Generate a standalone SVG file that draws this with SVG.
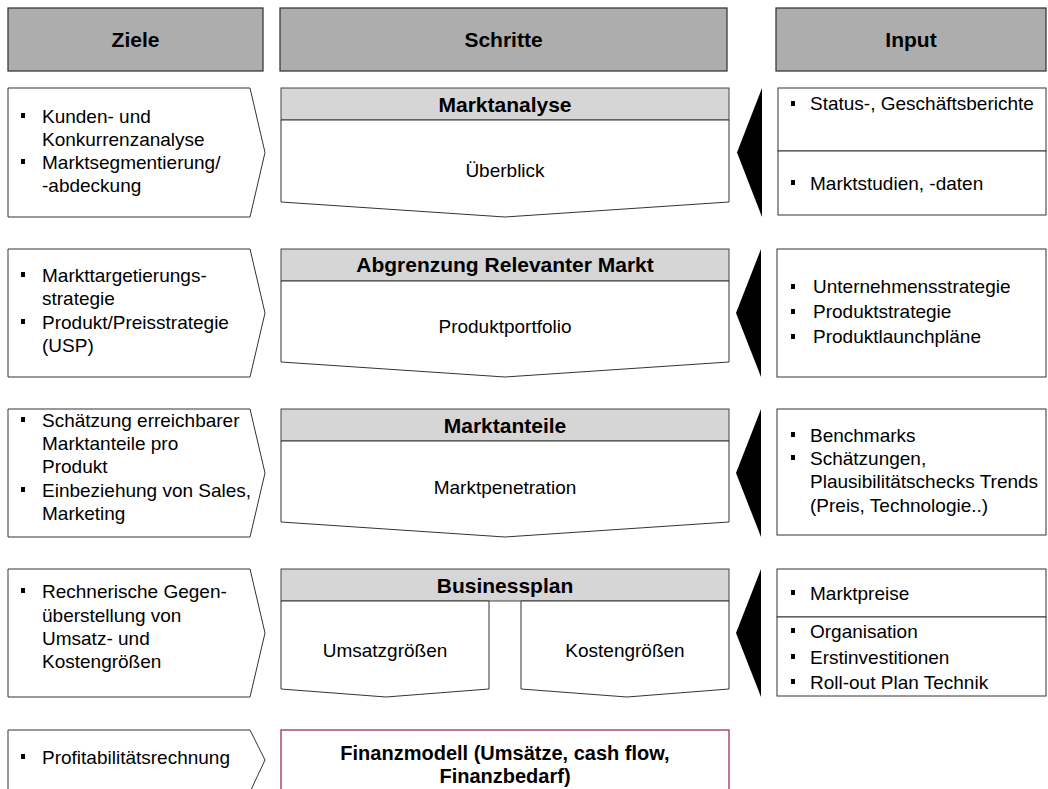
<svg xmlns="http://www.w3.org/2000/svg" width="1048" height="789" viewBox="0 0 1048 789">
<style>
.hdr{fill:#ADADAD;stroke:#3A3A3A;stroke-width:1.3}
.sh{fill:#D6D6D6;stroke:#444;stroke-width:1}
.bx{fill:#fff;stroke:#333;stroke-width:1}
.tri{fill:#000}
.bul{fill:#000}
text{font-family:"Liberation Sans",Arial,sans-serif;fill:#000}
.ht{font-size:21px;font-weight:bold;text-anchor:middle}
.st{font-size:21px;font-weight:bold;text-anchor:middle}
.ft{font-size:20px;font-weight:bold;text-anchor:middle}
.t{font-size:19px}
.c{text-anchor:middle}
.fin{fill:#fff;stroke:#A0304F;stroke-width:1.3}
</style>
<defs>
<rect id="b" width="4" height="5" class="bul"/>
</defs>

<g id="headers">
<rect class="hdr" x="8" y="8" width="255" height="63"/>
<text class="ht" x="135.5" y="47">Ziele</text>
<rect class="hdr" x="280" y="8" width="447" height="63"/>
<text class="ht" x="503.5" y="47">Schritte</text>
<rect class="hdr" x="776" y="8" width="270" height="63"/>
<text class="ht" x="911" y="47">Input</text>
</g>

<!-- Row 1 -->
<g id="ziel1">
<path class="bx" d="M8,88 H250 L265,152.5 L250,217 H8 Z"/>
<use href="#b" x="21" y="113"/><use href="#b" x="21" y="159"/>
<text class="t" x="42" y="123">Kunden- und</text>
<text class="t" x="42" y="146">Konkurrenzanalyse</text>
<text class="t" x="42" y="169">Marktsegmentierung/</text>
<text class="t" x="42" y="192">-abdeckung</text>
</g>
<g id="schritt1">
<rect class="sh" x="281" y="88" width="448" height="32"/>
<text class="st" x="505" y="112">Marktanalyse</text>
<path class="bx" d="M281,120 H729 V202 L505,217 L281,202 Z"/>
<text class="t c" x="505" y="177">Überblick</text>
</g>
<g id="input1">
<path class="tri" d="M762,88 V217 L737,152.5 Z"/>
<rect class="bx" x="778" y="88" width="268" height="63"/>
<rect class="bx" x="778" y="151" width="268" height="64"/>
<use href="#b" x="791" y="101"/><use href="#b" x="791" y="180"/>
<text class="t" x="810" y="110">Status-, Geschäftsberichte</text>
<text class="t" x="810" y="190">Marktstudien, -daten</text>
</g>

<!-- Row 2 -->
<g id="ziel2">
<path class="bx" d="M8,249 H250 L265,313 L250,377 H8 Z"/>
<use href="#b" x="21" y="272"/><use href="#b" x="21" y="319"/>
<text class="t" x="42" y="282">Markttargetierungs-</text>
<text class="t" x="42" y="305">strategie</text>
<text class="t" x="42" y="329">Produkt/Preisstrategie</text>
<text class="t" x="42" y="352">(USP)</text>
</g>
<g id="schritt2">
<rect class="sh" x="281" y="249" width="448" height="32"/>
<text class="st" x="505" y="272">Abgrenzung Relevanter Markt</text>
<path class="bx" d="M281,281 H729 V362 L505,377 L281,362 Z"/>
<text class="t c" x="505" y="333">Produktportfolio</text>
</g>
<g id="input2">
<path class="tri" d="M761,249 V377 L736,313 Z"/>
<rect class="bx" x="777" y="249" width="269" height="128"/>
<use href="#b" x="791" y="284"/><use href="#b" x="791" y="309"/><use href="#b" x="791" y="334"/>
<text class="t" x="813" y="293">Unternehmensstrategie</text>
<text class="t" x="813" y="318">Produktstrategie</text>
<text class="t" x="813" y="343">Produktlaunchpläne</text>
</g>

<!-- Row 3 -->
<g id="ziel3">
<path class="bx" d="M8,409 H250 L265,473 L250,537 H8 Z"/>
<use href="#b" x="21" y="417"/><use href="#b" x="21" y="487"/>
<text class="t" x="42" y="427">Schätzung erreichbarer</text>
<text class="t" x="42" y="450">Marktanteile pro</text>
<text class="t" x="42" y="473">Produkt</text>
<text class="t" x="42" y="497">Einbeziehung von Sales,</text>
<text class="t" x="42" y="520">Marketing</text>
</g>
<g id="schritt3">
<rect class="sh" x="281" y="409" width="448" height="32"/>
<text class="st" x="505" y="433">Marktanteile</text>
<path class="bx" d="M281,441 H729 V522 L505,537 L281,522 Z"/>
<text class="t c" x="505" y="494">Marktpenetration</text>
</g>
<g id="input3">
<path class="tri" d="M761,409 V537 L736,473 Z"/>
<rect class="bx" x="777" y="409" width="269" height="126"/>
<use href="#b" x="791" y="432"/><use href="#b" x="791" y="455"/>
<text class="t" x="810" y="442">Benchmarks</text>
<text class="t" x="810" y="465">Schätzungen,</text>
<text class="t" x="810" y="488">Plausibilitätschecks Trends</text>
<text class="t" x="810" y="512">(Preis, Technologie..)</text>
</g>

<!-- Row 4 -->
<g id="ziel4">
<path class="bx" d="M8,569 H250 L265,633 L250,697 H8 Z"/>
<use href="#b" x="21" y="588"/>
<text class="t" x="42" y="598">Rechnerische Gegen-</text>
<text class="t" x="42" y="622">überstellung von</text>
<text class="t" x="42" y="645">Umsatz- und</text>
<text class="t" x="42" y="668">Kostengrößen</text>
</g>
<g id="schritt4">
<rect class="sh" x="281" y="569" width="448" height="32"/>
<text class="st" x="505" y="593">Businessplan</text>
<path class="bx" d="M281,601 H489 V689 L386,697 L281,689 Z"/>
<text class="t c" x="385" y="657">Umsatzgrößen</text>
<path class="bx" d="M521,601 H729 V689 L627,697 L521,689 Z"/>
<text class="t c" x="625" y="657">Kostengrößen</text>
</g>
<g id="input4">
<path class="tri" d="M761,569 V697 L736,633 Z"/>
<rect class="bx" x="777" y="569" width="269" height="48"/>
<rect class="bx" x="777" y="617" width="269" height="79"/>
<use href="#b" x="791" y="590"/><use href="#b" x="791" y="628"/><use href="#b" x="791" y="654"/><use href="#b" x="791" y="679"/>
<text class="t" x="810" y="600">Marktpreise</text>
<text class="t" x="810" y="638">Organisation</text>
<text class="t" x="810" y="664">Erstinvestitionen</text>
<text class="t" x="810" y="689">Roll-out Plan Technik</text>
</g>

<!-- Row 5 -->
<g id="ziel5">
<path class="bx" d="M8,730 H250 L265,760 L250,792 H8 Z"/>
<use href="#b" x="21" y="754"/>
<text class="t" x="42" y="764">Profitabilitätsrechnung</text>
</g>
<g id="schritt5">
<rect class="fin" x="281" y="730" width="448" height="64"/>
<text class="ft" x="505" y="760">Finanzmodell (Umsätze, cash flow,</text>
<text class="ft" x="505" y="783">Finanzbedarf)</text>
</g>

<g id="connectors"></g>
</svg>
